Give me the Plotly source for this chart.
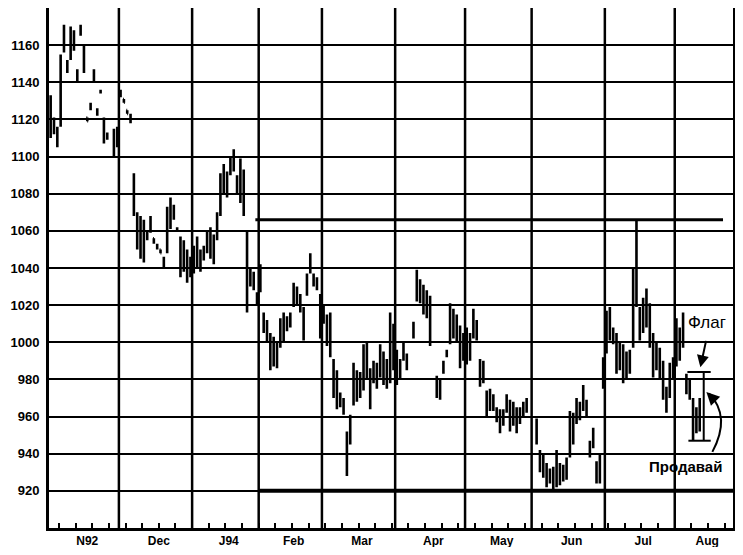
import plotly.graph_objects as go

# ---- data (trading-day index, OHLC) ----
days = [0, 1, 2, 3, 4, 5, 6, 7, 8, 9, 10, 11, 12, 13, 14, 15, 16, 17, 19, 20,
        21, 22, 23, 24, 25, 26, 27, 28, 29, 30, 31, 32, 33, 34, 35, 36, 37, 38, 39, 40, 41, 42,
        43, 44, 45, 46, 47, 48, 49, 50, 51, 52, 53, 54, 55, 56, 57, 58, 59, 60, 61, 62,
        63, 64, 65, 66, 67, 68, 69, 70, 71, 72, 73, 74, 75, 76, 77, 78, 79, 80, 81,
        82, 83, 84, 85, 86, 87, 88, 89, 90, 91, 92, 93, 94, 95, 96, 97, 98, 99, 100, 101, 102, 103,
        104, 105, 106, 107, 109, 110, 111, 112, 113, 114, 116, 117, 118, 119, 120, 121, 122, 123, 124,
        125, 126, 127, 128, 129, 130, 131, 132, 133, 134, 135, 136, 137, 138, 139, 140, 141, 142, 143,
        146, 147, 148, 149, 150, 151, 152, 153, 154, 155, 156, 157, 158, 159, 160, 161, 162, 163, 164, 165, 166,
        167, 168, 169, 170, 171, 172, 173, 174, 175, 176, 177, 178, 179, 180, 181, 182, 183, 184, 185, 186, 187,
        188, 189, 190, 191, 192, 193, 194, 195]

lows = [1110, 1112, 1105, 1116, 1156, 1145, 1152, 1157, 1140, 1165, 1145, 1119, 1125, 1140, 1122, 1134, 1107, 1109, 1100, 1105,
        1132, 1129, 1123, 1118, 1068, 1050, 1045, 1043, 1055, 1059, 1053, 1050, 1048, 1040, 1048, 1061, 1066, 1060, 1035, 1038, 1032, 1035,
        1037, 1040, 1038, 1044, 1048, 1045, 1042, 1055, 1068, 1080, 1078, 1090, 1092, 1080, 1075, 1068, 1016, 1030, 1028, 1020,
        1027, 1005, 1000, 985, 987, 986, 997, 1000, 1006, 1008, 1019, 1020, 1016, 1001, 1025, 1037, 1030, 1028, 1002,
        1010, 998, 992, 970, 964, 965, 961, 928, 945, 966, 968, 970, 974, 980, 964, 978, 975, 981, 977, 975, 978, 985,
        977, 980, 990, 985, 1002, 1022, 1021, 1015, 1013, 998, 970, 969, 983, 992, 999, 1002, 1000, 986, 990,
        988, 990, 1002, 1001, 976, 978, 960, 963, 963, 957, 951, 955, 962, 952, 955, 951, 956, 960, 962,
        945, 930, 927, 922, 924, 920, 922, 923, 925, 926, 938, 945, 956, 958, 963, 960, 938, 943, 924, 924, 975,
        994, 1001, 999, 983, 985, 978, 980, 983, 997, 1019, 1001, 1005, 1008, 997, 981, 985, 980, 969, 962, 970, 980,
        987, 990, 997, 972, 969, 947, 951, 952]

highs = [1133, 1121, 1116, 1155, 1171, 1152, 1170, 1168, 1147, 1171, 1160, 1121, 1129, 1147, 1126, 1136, 1121, 1113, 1115, 1116,
         1136, 1131, 1125, 1123, 1091, 1070, 1068, 1066, 1060, 1068, 1056, 1053, 1050, 1046, 1073, 1078, 1074, 1062, 1057, 1055, 1050, 1046,
         1052, 1057, 1050, 1052, 1060, 1062, 1058, 1070, 1091, 1096, 1092, 1100, 1104, 1090, 1099, 1093, 1060, 1040, 1038, 1027,
         1042, 1016, 1012, 1005, 1003, 1000, 1013, 1016, 1014, 1016, 1032, 1030, 1026, 1019, 1037, 1048, 1037, 1035, 1026,
         1020, 1015, 1016, 991, 985, 973, 970, 952, 961, 989, 985, 984, 999, 1000, 986, 990, 989, 999, 995, 991, 1016, 1010,
         996, 991, 1000, 994, 1011, 1039, 1034, 1031, 1028, 1025, 982, 980, 990, 996, 1021, 1018, 1015, 1009, 1005,
         1008, 1005, 1018, 1012, 991, 990, 974, 975, 972, 965, 964, 964, 972, 969, 968, 965, 965, 968, 970,
         959, 942, 940, 935, 932, 933, 942, 935, 934, 938, 963, 962, 970, 968, 977, 969, 947, 954, 936, 940, 992,
         1017, 1019, 1008, 1005, 1000, 999, 995, 996, 1040, 1066, 1019, 1024, 1029, 1021, 1005, 1000, 997, 990, 976, 989, 992,
         1013, 1008, 1016, 983, 980, 970, 965, 970]

opens = [1128, 1115, 1114, 1118, 1158, 1150, 1155, 1165, 1146, 1166, 1158, 1121, 1126, 1145, 1125, 1135, 1119, 1110, 1112, 1107,
         1133, 1131, 1125, 1122, 1090, 1068, 1050, 1060, 1056, 1060, 1056, 1052, 1050, 1045, 1050, 1065, 1072, 1061, 1055, 1040, 1048, 1037,
         1040, 1048, 1041, 1046, 1050, 1058, 1045, 1056, 1070, 1085, 1090, 1092, 1095, 1088, 1080, 1090, 1058, 1032, 1036, 1022,
         1030, 1014, 1010, 1002, 990, 998, 999, 1003, 1012, 1010, 1021, 1028, 1024, 1017, 1027, 1040, 1036, 1033, 1024,
         1012, 1013, 995, 989, 967, 971, 968, 930, 947, 968, 983, 972, 976, 998, 984, 980, 987, 983, 993, 980, 980, 1008,
         994, 982, 992, 993, 1003, 1024, 1032, 1029, 1016, 1023, 980, 971, 984, 993, 1001, 1016, 1002, 1007, 992,
         990, 1003, 1004, 1010, 989, 980, 972, 965, 970, 963, 953, 962, 964, 967, 957, 963, 958, 966, 963,
         957, 940, 929, 933, 925, 931, 924, 933, 926, 928, 940, 960, 958, 966, 965, 968, 946, 944, 934, 926, 977,
         996, 1017, 1001, 1003, 987, 996, 982, 994, 999, 1040, 1017, 1007, 1027, 1019, 1003, 987, 995, 988, 964, 972, 990,
         989, 1006, 999, 982, 971, 968, 953, 962]

closes = [1115, 1118, 1108, 1152, 1168, 1147, 1166, 1160, 1142, 1170, 1148, 1119, 1128, 1141, 1123, 1135, 1109, 1112, 1102, 1114,
          1135, 1129, 1123, 1119, 1070, 1052, 1062, 1047, 1059, 1066, 1054, 1051, 1048, 1041, 1070, 1075, 1068, 1061, 1038, 1052, 1035, 1044,
          1050, 1042, 1048, 1050, 1058, 1047, 1055, 1068, 1088, 1092, 1082, 1098, 1102, 1082, 1097, 1072, 1020, 1038, 1030, 1025,
          1040, 1008, 1002, 988, 1000, 989, 1010, 1014, 1008, 1015, 1030, 1022, 1018, 1003, 1035, 1045, 1032, 1030, 1005,
          1018, 1000, 1012, 972, 982, 967, 963, 948, 959, 986, 970, 982, 996, 983, 967, 988, 977, 997, 979, 983, 1012, 988,
          979, 989, 998, 987, 1010, 1037, 1023, 1017, 1026, 1000, 972, 978, 989, 995, 1019, 1004, 1012, 988, 1003,
          1006, 992, 1016, 1003, 978, 988, 962, 973, 965, 959, 962, 957, 970, 955, 966, 953, 963, 962, 969,
          947, 932, 938, 924, 930, 922, 940, 925, 932, 936, 960, 948, 968, 960, 975, 961, 939, 952, 926, 938, 990,
          1015, 1003, 1006, 985, 998, 980, 993, 985, 1036, 1022, 1003, 1022, 1010, 999, 983, 998, 982, 971, 974, 987, 982,
          1011, 992, 1004, 974, 978, 949, 963, 967]

month_labels = ["N92", "Dec", "J94", "Feb", "Mar", "Apr", "May", "Jun", "Jul", "Aug"]
month_bounds = [20.5, 42.5, 62.5, 81.5, 103.5, 124.5, 144.5, 166.5, 187.5]
x_start, x_end = -0.5, 205.0
y_ticks = [920, 940, 960, 980, 1000, 1020, 1040, 1060, 1080, 1100, 1120, 1140, 1160]
y_range = [900, 1180]
resistance_level, resistance_from, resistance_to = 1066, 61.5, 202.0
support_level, support_from = 920, 62.5
flag_top, flag_bottom, flag_from, flag_to, flag_post = 984, 947, 191.3, 198.3, 196.2

# ---- derived axis helpers ----
edges = [x_start] + month_bounds + [x_end]
label_pos = [(edges[i] + edges[i + 1]) / 2 + 1 for i in range(len(month_labels))]
week_ticks = [2.5 + 5 * k for k in range(41)]

fig = go.Figure()
fig.add_trace(go.Ohlc(
    x=days, open=opens, high=highs, low=lows, close=closes,
    increasing=dict(line=dict(color="black", width=2.6)),
    decreasing=dict(line=dict(color="black", width=2.6)),
    tickwidth=0.25, hoverinfo="skip", showlegend=False,
))

shapes = []
for b in month_bounds:
    shapes.append(dict(type="line", xref="x", yref="paper", x0=b, x1=b, y0=0, y1=1,
                       line=dict(color="black", width=2.5), layer="below"))
shapes.append(dict(type="line", xref="x", yref="y", x0=resistance_from, x1=resistance_to,
                   y0=resistance_level, y1=resistance_level, line=dict(color="black", width=3)))
shapes.append(dict(type="line", xref="x", yref="y", x0=support_from, x1=x_end,
                   y0=support_level, y1=support_level, line=dict(color="black", width=4)))
# flag bracket
shapes.append(dict(type="line", xref="x", yref="y", x0=flag_from, x1=flag_to,
                   y0=flag_top, y1=flag_top, line=dict(color="black", width=2)))
shapes.append(dict(type="line", xref="x", yref="y", x0=flag_from + 0.3, x1=flag_to,
                   y0=flag_bottom, y1=flag_bottom, line=dict(color="black", width=2)))
shapes.append(dict(type="line", xref="x", yref="y", x0=flag_post, x1=flag_post,
                   y0=flag_bottom, y1=flag_top, line=dict(color="black", width=2)))
# curved "sell" arrow
shapes.append(dict(type="path", xref="x", yref="y",
                   path="M 198.8,941 Q 204.5,960 197.8,972.5",
                   line=dict(color="black", width=2)))

annotations = [
    dict(x=195.2, y=986.5, xref="x", yref="y", text="", showarrow=True,
         ax=6, ay=-28, arrowhead=2, arrowsize=1.2, arrowwidth=2, arrowcolor="black"),
    dict(x=197.0, y=973.2, xref="x", yref="y", text="", showarrow=True,
         ax=5, ay=5, arrowhead=2, arrowsize=1.3, arrowwidth=2, arrowcolor="black"),
    dict(x=197.3, y=1010.5, xref="x", yref="y", text="Флаг", showarrow=False,
         font=dict(family="Liberation Sans", size=17, color="black")),
    dict(x=190.6, y=933.0, xref="x", yref="y", text="Продавай", showarrow=False,
         font=dict(family="Liberation Sans", size=15, color="black", weight="bold")),
]

fig.update_layout(
    width=735, height=539,
    margin=dict(l=41, r=10, t=0, b=19, autoexpand=False),
    paper_bgcolor="white", plot_bgcolor="white",
    shapes=shapes, annotations=annotations,
    xaxis=dict(
        range=[x_start, x_end], rangeslider=dict(visible=False),
        tickmode="array", tickvals=label_pos, ticktext=month_labels,
        ticks="", showgrid=False, zeroline=False,
        showline=True, linecolor="black", linewidth=3, mirror=True,
        tickfont=dict(family="Liberation Sans", size=12, color="black", weight="bold"),
        minor=dict(tickmode="array", tickvals=week_ticks, ticks="inside",
                   ticklen=5, tickwidth=1.5, tickcolor="black", showgrid=False),
    ),
    yaxis=dict(
        range=y_range, tickmode="array", tickvals=y_ticks,
        showgrid=True, gridcolor="black", gridwidth=2, zeroline=False,
        showline=True, linecolor="black", linewidth=3, mirror=True,
        ticks="", ticklabelstandoff=4,
        tickfont=dict(family="Liberation Sans", size=13, color="black", weight="bold"),
    ),
)

fig.write_html("out.html")
